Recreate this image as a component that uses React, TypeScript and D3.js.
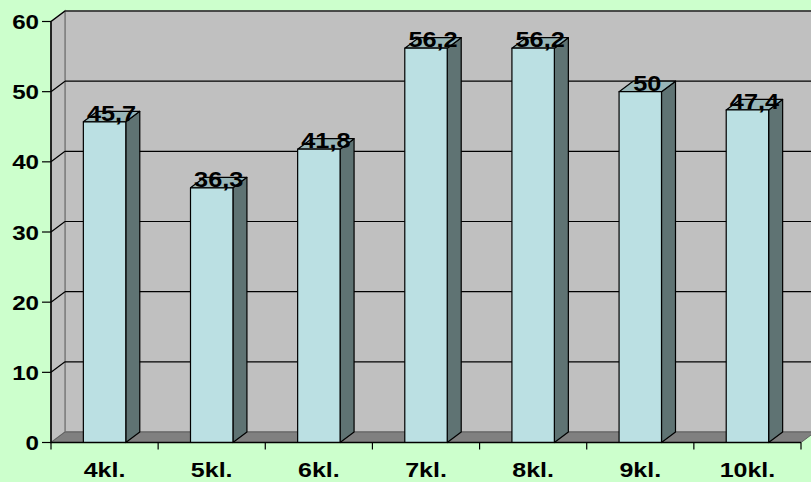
import React, { useEffect, useRef } from 'react';
import * as d3 from 'd3';

const categories = ['4kl.', '5kl.', '6kl.', '7kl.', '8kl.', '9kl.', '10kl.'];
const values = [45.7, 36.3, 41.8, 56.2, 56.2, 50, 47.4];
const valueLabels = ['45,7', '36,3', '41,8', '56,2', '56,2', '50', '47,4'];
const yTicks = [0, 10, 20, 30, 40, 50, 60];

const W = 811;
const H = 482;

const App: React.FC = () => {
  const svgRef = useRef<SVGSVGElement>(null);

  useEffect(() => {
    if (!svgRef.current) return;
    const svg = d3.select(svgRef.current);
    svg.selectAll('*').remove();

    // depth offset of the 3D box
    const dx = 14;
    const dy = -10.5;
    const left = 51;
    const right = 801;

    const x = d3.scaleBand<string>().domain(categories).range([left, right]);
    const y = d3.scaleLinear().domain([0, 60]).range([442.5, 21.5]);
    const barW = x.bandwidth() * 0.396;
    const font = "'Liberation Sans', Arial, sans-serif";

    svg.append('rect').attr('width', W).attr('height', H).attr('fill', '#CCFFCC');

    const y0 = y(0);
    const yTop = y(60);

    // back wall
    svg.append('path')
      .attr('d', `M${left + dx},${yTop + dy}L${right + dx},${yTop + dy}L${right + dx},${y0 + dy}L${left + dx},${y0 + dy}Z`)
      .attr('fill', '#C0C0C0').attr('stroke', '#808080').attr('stroke-width', 1.5);
    // left wall
    svg.append('path')
      .attr('d', `M${left},${yTop}L${left + dx},${yTop + dy}L${left + dx},${y0 + dy}L${left},${y0}Z`)
      .attr('fill', '#C0C0C0').attr('stroke', '#808080').attr('stroke-width', 1.5);
    // floor
    svg.append('path')
      .attr('d', `M${left},${y0}L${left + dx},${y0 + dy}L${right + dx},${y0 + dy}L${right},${y0}Z`)
      .attr('fill', '#808080').attr('stroke', '#606060').attr('stroke-width', 1);

    // gridlines
    yTicks.filter(t => t > 0).forEach(t => {
      svg.append('line')
        .attr('x1', left + dx).attr('x2', right + dx)
        .attr('y1', y(t) + dy).attr('y2', y(t) + dy)
        .attr('stroke', '#000').attr('stroke-width', 1.2);
      svg.append('line')
        .attr('x1', left).attr('x2', left + dx)
        .attr('y1', y(t)).attr('y2', y(t) + dy)
        .attr('stroke', '#000').attr('stroke-width', 1.2);
    });

    // bars
    categories.forEach((c, i) => {
      const cx = (x(c) as number) + x.bandwidth() / 2;
      const x0 = cx - barW / 2;
      const x1 = cx + barW / 2;
      const yv = y(values[i]);
      const g = svg.append('g').attr('stroke', '#000').attr('stroke-width', 1.2).attr('stroke-linejoin', 'round');
      g.append('path')
        .attr('d', `M${x1},${yv}L${x1 + dx},${yv + dy}L${x1 + dx},${y0 + dy}L${x1},${y0}Z`)
        .attr('fill', '#5F7373');
      g.append('path')
        .attr('d', `M${x0},${yv}L${x0 + dx},${yv + dy}L${x1 + dx},${yv + dy}L${x1},${yv}Z`)
        .attr('fill', '#98B6B8');
      g.append('rect')
        .attr('x', x0).attr('y', yv).attr('width', barW).attr('height', y0 - yv)
        .attr('fill', '#BBE0E3');

      svg.append('text')
        .attr('transform', `translate(${cx + dx / 2},${yv - 1}) scale(1.15,1)`)
        .attr('text-anchor', 'middle')
        .attr('font-family', font).attr('font-weight', 700).attr('font-size', 22)
        .attr('fill', '#000')
        .text(valueLabels[i]);
    });

    // axes
    svg.append('line').attr('x1', left).attr('x2', left).attr('y1', yTop).attr('y2', y0)
      .attr('stroke', '#000').attr('stroke-width', 1.5);
    svg.append('line').attr('x1', left).attr('x2', right).attr('y1', y0).attr('y2', y0)
      .attr('stroke', '#000').attr('stroke-width', 1.5);

    yTicks.forEach(t => {
      svg.append('line').attr('x1', left - 9).attr('x2', left).attr('y1', y(t)).attr('y2', y(t))
        .attr('stroke', '#000').attr('stroke-width', 1.2);
      svg.append('text')
        .attr('transform', `translate(39,${y(t) + 7.5}) scale(1.15,1)`)
        .attr('text-anchor', 'end')
        .attr('font-family', font).attr('font-weight', 700).attr('font-size', 21)
        .attr('fill', '#000')
        .text(t);
    });

    const bounds = [...categories.map(c => x(c) as number), right];
    bounds.forEach(bx => {
      svg.append('line').attr('x1', bx).attr('x2', bx).attr('y1', y0).attr('y2', y0 + 7)
        .attr('stroke', '#000').attr('stroke-width', 1.2);
    });

    categories.forEach(c => {
      const cx = (x(c) as number) + x.bandwidth() / 2;
      svg.append('text')
        .attr('transform', `translate(${cx},477) scale(1.25,1)`)
        .attr('text-anchor', 'middle')
        .attr('font-family', font).attr('font-weight', 700).attr('font-size', 20)
        .attr('fill', '#000')
        .text(c);
    });
  }, []);

  return (
    <svg
      ref={svgRef}
      width={W}
      height={H}
      viewBox={`0 0 ${W} ${H}`}
      style={{ position: 'absolute', left: 0, top: 0, display: 'block' }}
    />
  );
};

export default App;
